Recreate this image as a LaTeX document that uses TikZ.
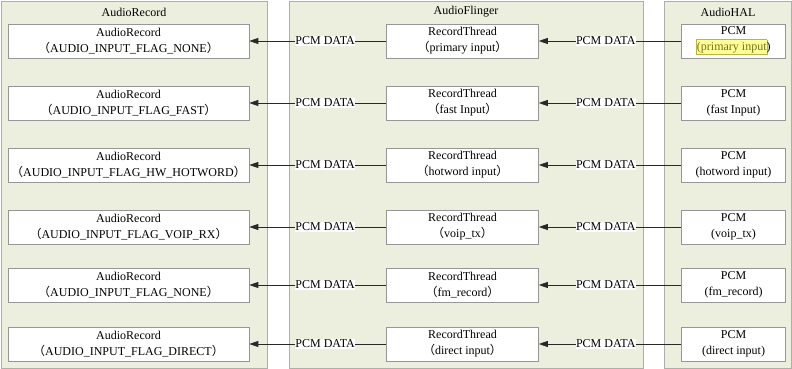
\documentclass[tikz,border=0pt]{standalone}
\usepackage{fontspec}
\setmainfont{Liberation Serif}
\newfontfamily\cjkfont{Noto Sans CJK SC}
\usetikzlibrary{arrows.meta}
\definecolor{panelfill}{RGB}{236,239,222}
\definecolor{panelline}{RGB}{175,175,170}
\definecolor{boxline}{RGB}{150,150,150}
\definecolor{hlfill}{RGB}{255,255,150}
\definecolor{hlline}{RGB}{190,180,60}
\definecolor{hltext}{RGB}{120,110,30}
\newcommand\flp{{\cjkfont （}}
\newcommand\frp{{\cjkfont ）}}
\tikzset{
  panel/.style={draw=panelline, fill=panelfill, line width=0.8pt},
  ptitle/.style={inner sep=0pt, font=\fontsize{12}{14}\selectfont},
  recbox/.style={draw=boxline, fill=white, line width=0.6pt, minimum height=34pt, inner sep=0pt, align=center, font=\fontsize{12}{16}\selectfont},
  lbl/.style={fill=white, inner sep=0.5pt, font=\fontsize{12}{14}\selectfont},
  arr/.style={draw={rgb,255:red,40;green,40;blue,40}, line width=0.7pt, -{Triangle[length=9pt,width=6pt]}},
}
\begin{document}
\begin{tikzpicture}[x=1pt,y=-1pt]
\useasboundingbox (0,0) rectangle (792,369);
% panels
\draw[panel] (1,1) rectangle (267,368);
\draw[panel] (289,1) rectangle (643,368);
\draw[panel] (664,1) rectangle (791.5,368);
\node[ptitle] (t1) at (134,12) {AudioRecord};
\node[ptitle] (t2) at (466,12) {AudioFlinger};
\node[ptitle] (t3) at (728,12) {AudioHAL};
% rows
\foreach \i/\y/\ra/\fb/\hb in {
  1/41/AUDIO\_INPUT\_FLAG\_NONE/primary input/{\fboxsep=0pt\fboxrule=0.5pt\fcolorbox{hlline}{hlfill}{\color{hltext}\rule[-3.5pt]{0pt}{14.5pt}(primary input}\kern-0.5pt)},
  2/103/AUDIO\_INPUT\_FLAG\_FAST/fast Input/(fast Input),
  3/165/AUDIO\_INPUT\_FLAG\_HW\_HOTWORD/hotword input/(hotword input),
  4/227/AUDIO\_INPUT\_FLAG\_VOIP\_RX/voip\_tx/(voip\_tx),
  5/285/AUDIO\_INPUT\_FLAG\_NONE/fm\_record/(fm\_record),
  6/344/AUDIO\_INPUT\_FLAG\_DIRECT/direct input/(direct input)} {
  \node[recbox, minimum width=241pt] (r\i) at (128.5,\y) {AudioRecord\\\flp\ra\frp};
  \node[recbox, minimum width=152pt] (f\i) at (462.5,\y) {RecordThread\\\flp\fb\frp};
  \node[recbox, minimum width=104pt] (h\i) at (733.5,\y) {PCM\\\hb};
  \draw[arr] (h\i.west) -- node[lbl, pos=0.53] (lh\i) {PCM DATA} (f\i.east);
  \draw[arr] (f\i.west) -- node[lbl, pos=0.446] (lf\i) {PCM DATA} (r\i.east);
}
\end{tikzpicture}
\end{document}
